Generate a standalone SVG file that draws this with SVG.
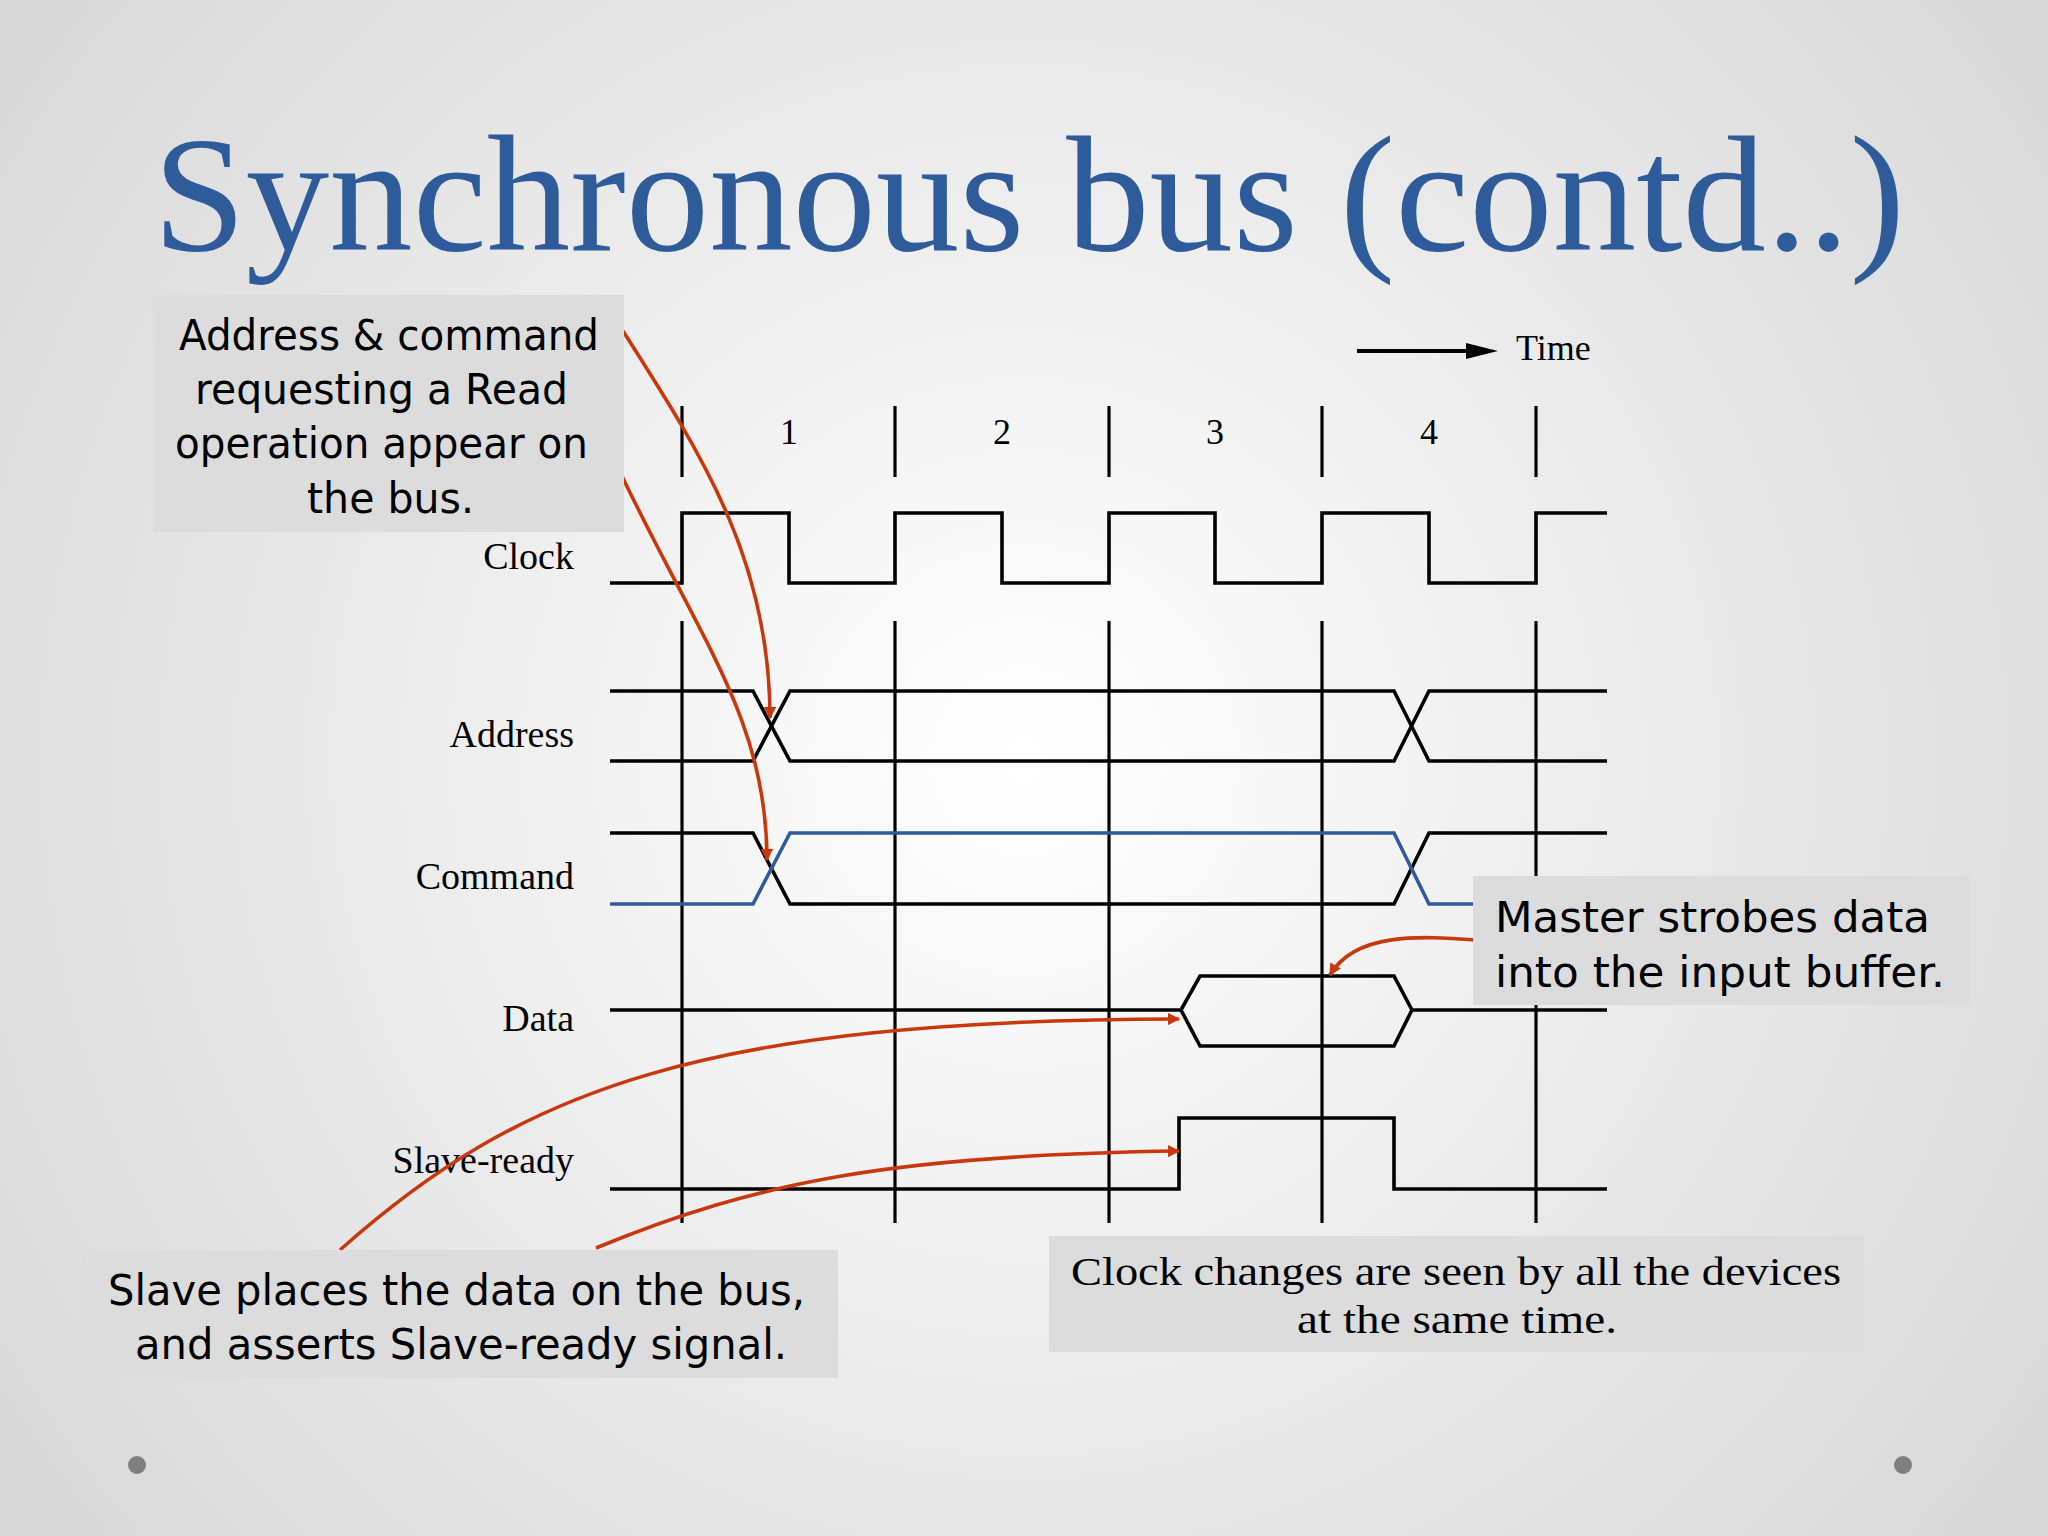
<svg xmlns="http://www.w3.org/2000/svg" width="2048" height="1536" viewBox="0 0 2048 1536">
<defs>
<radialGradient id="bg" cx="1024" cy="760" r="1250" gradientUnits="userSpaceOnUse">
<stop offset="0" stop-color="#FFFFFF"/>
<stop offset="1" stop-color="#D8D8D8"/>
</radialGradient>
<marker id="ah" viewBox="0 0 10 10" refX="9" refY="5" markerWidth="4.2" markerHeight="3.4" orient="auto" markerUnits="strokeWidth">
<path d="M0,0 L10,5 L0,10 z" fill="#C9380C"/>
</marker>
<style>
.sig{fill:none;stroke:#000;stroke-width:3.6;stroke-linejoin:miter}
.blue{fill:none;stroke:#2E5B9A;stroke-width:3.6}
.grid{stroke:#000;stroke-width:3.2}
.lbl{font-family:"Liberation Serif",serif;font-size:38px;fill:#000;text-anchor:end}
.num{font-family:"Liberation Serif",serif;font-size:36px;fill:#000;text-anchor:middle}
.box{fill:#DCDCDC}
.comic{font-family:"DejaVu Sans","Open Sans",sans-serif;font-size:42px;fill:#000}
.serifbox{font-family:"Liberation Serif",serif;font-size:40px;fill:#000}
.red{fill:none;stroke:#C9380C;stroke-width:3.6;marker-end:url(#ah)}
</style>
</defs>
<rect width="2048" height="1536" fill="url(#bg)"/>
<text x="153" y="250" font-family="Liberation Serif,serif" font-size="166" fill="#2E5B9A" textLength="1752" lengthAdjust="spacingAndGlyphs">Synchronous bus (contd..)</text>

<g id="time-axis">
<line x1="1357" y1="351" x2="1470" y2="351" stroke="#000" stroke-width="4"/>
<polygon points="1466,343 1498,351 1466,359" fill="#000"/>
<text x="1516" y="360" font-family="Liberation Serif,serif" font-size="36">Time</text>
</g>

<g id="cycle-ticks">
<line class="grid" x1="682" y1="406" x2="682" y2="477"/>
<line class="grid" x1="895" y1="406" x2="895" y2="477"/>
<line class="grid" x1="1109" y1="406" x2="1109" y2="477"/>
<line class="grid" x1="1322" y1="406" x2="1322" y2="477"/>
<line class="grid" x1="1536" y1="406" x2="1536" y2="477"/>
<text class="num" x="789" y="444">1</text>
<text class="num" x="1002" y="444">2</text>
<text class="num" x="1215" y="444">3</text>
<text class="num" x="1429" y="444">4</text>
</g>

<g id="grid-lines">
<line class="grid" x1="682" y1="621" x2="682" y2="1223"/>
<line class="grid" x1="895" y1="621" x2="895" y2="1223"/>
<line class="grid" x1="1109" y1="621" x2="1109" y2="1223"/>
<line class="grid" x1="1322" y1="621" x2="1322" y2="1223"/>
<line class="grid" x1="1536" y1="621" x2="1536" y2="1223"/>
</g>

<g id="clock">
<text class="lbl" x="574" y="569">Clock</text>
<path class="sig" d="M610,583 H682 V513 H789 V583 H895 V513 H1002 V583 H1109 V513 H1215 V583 H1322 V513 H1429 V583 H1536 V513 H1607"/>
</g>
<g id="address">
<text class="lbl" x="574" y="747">Address</text>
<path class="sig" d="M610,691 H753 L790,761 H1394 L1429,691 H1607"/>
<path class="sig" d="M610,761 H753 L790,691 H1394 L1429,761 H1607"/>
</g>
<g id="command">
<text class="lbl" x="574" y="889">Command</text>
<path class="sig" d="M610,833 H753 L790,904 H1394 L1429,833 H1607"/>
<path class="blue" d="M610,904 H753 L790,833 H1394 L1429,904 H1475"/>
</g>
<g id="data">
<text class="lbl" x="574" y="1031">Data</text>
<path class="sig" d="M610,1010 H1181 L1200,976 H1394 L1412,1010 H1607"/>
<path class="sig" d="M1181,1010 L1200,1046 H1394 L1412,1010"/>
</g>
<g id="slave-ready">
<text class="lbl" x="574" y="1173">Slave-ready</text>
<path class="sig" d="M610,1189 H1179 V1118 H1394 V1189 H1607"/>
</g>

<g id="connectors">
<path class="red" d="M623,331 C702,455 770,560 770,718"/>
<path class="red" d="M621,474 C700,640 767,720 767,860"/>
<path class="red" d="M1477,940 C1420,936 1355,932 1330,975"/>
<path class="red" d="M340,1250 C520,1090 700,1020 1179,1019"/>
<path class="red" d="M596,1248 C760,1180 900,1155 1179,1151"/>
</g>

<g id="note-address-command">
<rect class="box" x="153" y="295" width="471" height="237"/>
<text class="comic" x="179" y="350" textLength="420" lengthAdjust="spacingAndGlyphs">Address &amp; command</text>
<text class="comic" x="195" y="404" textLength="373" lengthAdjust="spacingAndGlyphs">requesting a Read</text>
<text class="comic" x="175" y="458" textLength="413" lengthAdjust="spacingAndGlyphs">operation appear on</text>
<text class="comic" x="307" y="513" textLength="167" lengthAdjust="spacingAndGlyphs">the bus.</text>
</g>

<g id="note-master">
<rect class="box" x="1473" y="876" width="497" height="129"/>
<text class="comic" x="1495" y="932" textLength="435" lengthAdjust="spacingAndGlyphs">Master strobes data</text>
<text class="comic" x="1495" y="987" textLength="450" lengthAdjust="spacingAndGlyphs">into the input buffer.</text>
</g>

<g id="note-slave">
<rect class="box" x="83" y="1250" width="755" height="128"/>
<text class="comic" x="108" y="1305" textLength="697" lengthAdjust="spacingAndGlyphs">Slave places the data on the bus,</text>
<text class="comic" x="135" y="1359" textLength="652" lengthAdjust="spacingAndGlyphs">and asserts Slave-ready signal.</text>
</g>

<g id="note-clock">
<rect class="box" x="1049" y="1236" width="815" height="116"/>
<text class="serifbox" x="1071" y="1285" textLength="770" lengthAdjust="spacingAndGlyphs">Clock changes are seen by all the devices</text>
<text class="serifbox" x="1297" y="1333" textLength="320" lengthAdjust="spacingAndGlyphs">at the same time.</text>
</g>

<circle cx="137" cy="1465" r="9" fill="#7F7F7F"/>
<circle cx="1903" cy="1465" r="9" fill="#7F7F7F"/>
</svg>
